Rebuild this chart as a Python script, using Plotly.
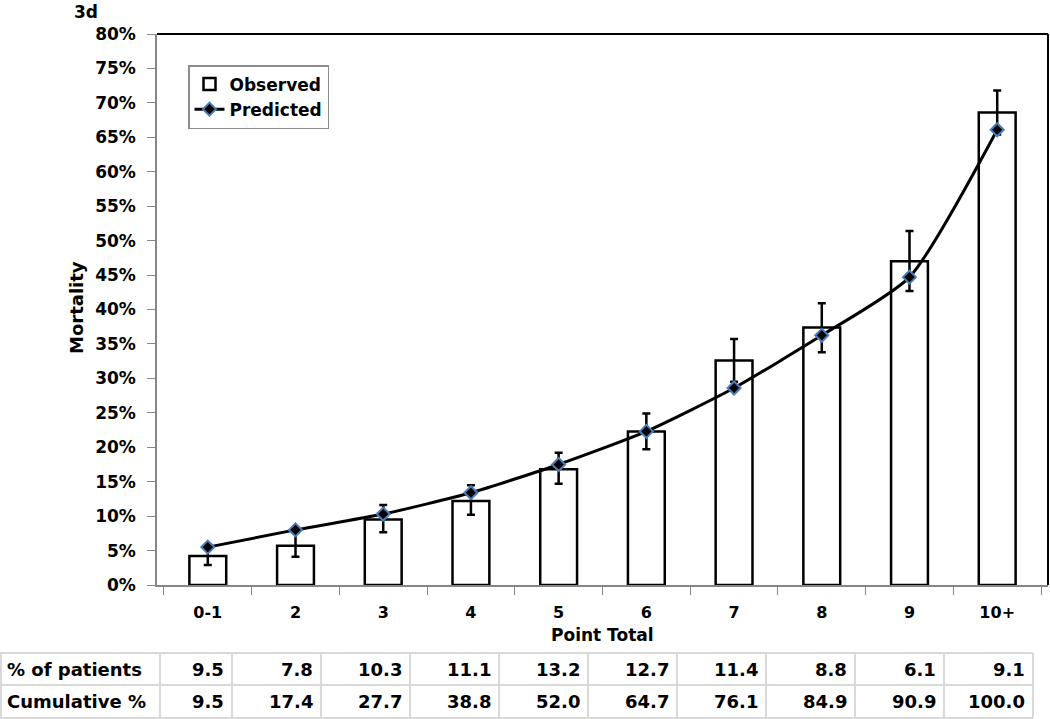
import plotly.graph_objects as go

categories = ["0-1", "2", "3", "4", "5", "6", "7", "8", "9", "10+"]
observed = [4.2, 5.7, 9.5, 12.2, 16.8, 22.3, 32.6, 37.4, 47.0, 68.6]
err_plus = [1.3, 1.9, 2.1, 2.3, 2.4, 2.6, 3.1, 3.5, 4.4, 3.2]
err_minus = [1.3, 1.6, 1.85, 2.0, 2.1, 2.6, 3.1, 3.6, 4.3, 3.2]
predicted = [5.5, 8.0, 10.3, 13.4, 17.5, 22.3, 28.6, 36.25, 44.7, 66.1]
row_labels = ["% of patients", "Cumulative %"]
pct_patients = [9.5, 7.8, 10.3, 11.1, 13.2, 12.7, 11.4, 8.8, 6.1, 9.1]
cumulative_pct = [9.5, 17.4, 27.7, 38.8, 52.0, 64.7, 76.1, 84.9, 90.9, 100.0]
y_ticks = list(range(0, 81, 5))
y_tick_labels = [f"{v}%" for v in y_ticks]

W, H = 1050, 719
FONT = "DejaVu Sans"

def px_x(p):
    return p / W

def px_y(p):
    return 1 - p / H

fig = go.Figure()

fig.add_trace(go.Bar(
    x=categories, y=observed, name="Observed",
    marker=dict(color="white", line=dict(color="black", width=2.5)),
    error_y=dict(type="data", symmetric=False, array=err_plus, arrayminus=err_minus,
                 color="black", thickness=2.5, width=4),
))
fig.add_trace(go.Scatter(
    x=categories, y=predicted, name="Predicted", mode="lines+markers",
    line=dict(color="black", width=3, shape="spline", smoothing=0.6),
    marker=dict(symbol="diamond", size=10, color="black",
                line=dict(color="#4a7ebb", width=2)),
))

# ---- table below the chart (layout geometry in pixels) ----
col_widths = [160, 72] + [89] * 9
col_edges = [0]
for w in col_widths:
    col_edges.append(col_edges[-1] + w)
row_edges = [653, 685, 718]
grid_color = "#d9d9d9"

shapes = [
    dict(type="line", xref="x domain", yref="y domain", x0=0, x1=1, y0=1, y1=1,
         line=dict(color="black", width=2)),
    dict(type="line", xref="x domain", yref="y domain", x0=1, x1=1, y0=0, y1=1,
         line=dict(color="black", width=2)),
]
for xe in col_edges:
    shapes.append(dict(type="line", xref="paper", yref="paper",
                       x0=px_x(max(xe, 1)), x1=px_x(max(xe, 1)),
                       y0=px_y(row_edges[0]), y1=px_y(row_edges[-1]),
                       line=dict(color=grid_color, width=2)))
for ye in row_edges:
    shapes.append(dict(type="line", xref="paper", yref="paper",
                       x0=px_x(0), x1=px_x(col_edges[-1]),
                       y0=px_y(ye), y1=px_y(ye),
                       line=dict(color=grid_color, width=2)))

annotations = [
    dict(text="<b>3d</b>", x=px_x(72), y=px_y(12), xref="paper", yref="paper",
         xanchor="left", yanchor="middle", showarrow=False,
         font=dict(family=FONT, size=17, color="black")),
    dict(text="<b>Mortality</b>", x=px_x(76), y=px_y(308), xref="paper", yref="paper",
         xanchor="center", yanchor="middle", textangle=-90, showarrow=False,
         font=dict(family=FONT, size=18, color="black")),
    dict(text="<b>Point Total</b>", x=px_x(602), y=px_y(635), xref="paper", yref="paper",
         xanchor="center", yanchor="middle", showarrow=False,
         font=dict(family=FONT, size=17, color="black")),
]
for r, (label, vals) in enumerate(zip(row_labels, [pct_patients, cumulative_pct])):
    yc = (row_edges[r] + row_edges[r + 1]) / 2
    annotations.append(dict(text=f"<b>{label}</b>", x=px_x(col_edges[0] + 5), y=px_y(yc),
                            xref="paper", yref="paper", xanchor="left", yanchor="middle",
                            showarrow=False, font=dict(family=FONT, size=18, color="black")))
    for c, v in enumerate(vals):
        annotations.append(dict(text=f"<b>{v:.1f}</b>", x=px_x(col_edges[c + 2] - 6), y=px_y(yc),
                                xref="paper", yref="paper", xanchor="right", yanchor="middle",
                                showarrow=False, font=dict(family=FONT, size=18, color="black")))

fig.update_layout(
    width=W, height=H,
    margin=dict(l=0, r=0, t=0, b=0),
    paper_bgcolor="white", plot_bgcolor="white",
    bargap=0.58,
    showlegend=True,
    legend=dict(
        x=px_x(188), y=px_y(65), xanchor="left", yanchor="top",
        bordercolor="#8c8c8c", borderwidth=1.5, bgcolor="white",
        font=dict(family=FONT, size=17, color="black", weight="bold"),
        tracegroupgap=2,
    ),
    font=dict(family=FONT, color="black"),
    xaxis=dict(
        domain=[px_x(157), px_x(1048)],
        type="category", tickson="boundaries",
        ticks="outside", ticklen=8, tickcolor="#868686",
        showline=True, linecolor="#868686", linewidth=1.5,
        tickfont=dict(family=FONT, size=16, color="black", weight="bold"),
        ticklabelstandoff=12,
        automargin=False, showgrid=False,
    ),
    yaxis=dict(
        domain=[px_y(585), px_y(34)],
        range=[0, 80], tickvals=y_ticks, ticktext=y_tick_labels,
        ticks="outside", ticklen=8, tickcolor="#868686",
        showline=True, linecolor="#868686", linewidth=1.5,
        tickfont=dict(family=FONT, size=17, color="black", weight="bold"),
        ticklabelstandoff=8,
        automargin=False, showgrid=False, zeroline=False,
    ),
    shapes=shapes,
    annotations=annotations,
)

fig.write_html("out.html", config={"displayModeBar": False},
               post_script="document.body.style.margin='0';")
